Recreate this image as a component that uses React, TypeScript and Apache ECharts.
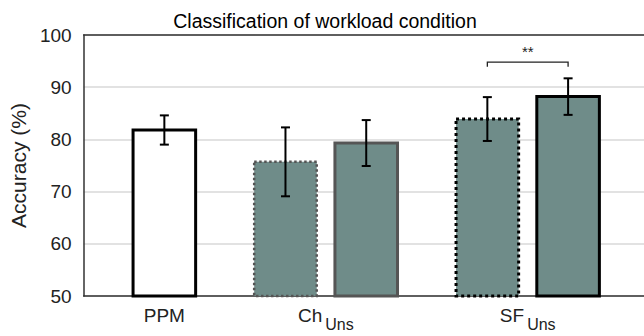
import React, { useEffect, useRef } from 'react';
import * as echarts from 'echarts';

// ---- data ----
const groupNames = ['PPM', 'Ch', 'SF'];
const groupSubs = ['', 'Uns', 'Uns'];
const groupSlots = [2, 6, 11];
const barNames = ['PPM', 'Ch_Uns (dotted)', 'Ch_Uns', 'SF_Uns (dotted)', 'SF_Uns'];
const barSlots = [2, 5, 7, 10, 12];
const barMeans = [81.8, 75.7, 79.3, 83.9, 88.2];
const barSD = [2.8, 6.6, 4.4, 4.2, 3.5];
const yMin = 50;
const yMax = 100;
const yStep = 10;
const sigPair = [3, 4];
const sigLabel = '**';
const sigLevel = 94.8;

// ---- styles ----
const TEAL = '#6f8c89';
const barStyles = [
  { fill: '#ffffff', stroke: '#000000', dash: null as any, width: 3 },
  { fill: TEAL, stroke: '#555555', dash: 'dotted', width: 2.5 },
  { fill: TEAL, stroke: '#555555', dash: null as any, width: 3 },
  { fill: TEAL, stroke: '#000000', dash: 'dotted', width: 3 },
  { fill: TEAL, stroke: '#000000', dash: null as any, width: 3 },
];
const HALF = 0.775;
const FONT = '"Liberation Sans", Arial, sans-serif';

export default function App() {
  const ref = useRef<HTMLDivElement>(null);
  useEffect(() => {
    document.body.style.margin = '0';
    const chart = echarts.init(ref.current!, null, { renderer: 'svg' });
    const barData = barSlots.map((s, i) => [s, barMeans[i], barSD[i]]);
    chart.setOption({
      animation: false,
      backgroundColor: '#ffffff',
      textStyle: { fontFamily: FONT },
      title: {
        text: 'Classification of workload condition',
        left: 320,
        textAlign: 'center',
        top: 6,
        textStyle: { fontFamily: FONT, fontSize: 19.5, fontWeight: 'normal', color: '#000' },
      },
      grid: { left: 79, right: 0, top: 35, bottom: 40 },
      xAxis: [
        {
          type: 'value',
          min: 0,
          max: 13.88,
          axisLine: { show: true, onZero: false, lineStyle: { color: '#333', width: 1.5 } },
          axisTick: { show: false },
          splitLine: { show: false },
          axisLabel: {
            customValues: groupSlots,
            margin: 10,
            fontFamily: FONT,
            color: '#222',
            formatter: (v: number) => {
              const i = groupSlots.indexOf(v);
              if (i < 0) return '';
              return groupSubs[i]
                ? `{m|${groupNames[i]}}{s|${groupSubs[i]}}`
                : `{m|${groupNames[i]}}`;
            },
            rich: {
              m: { fontSize: 19, lineHeight: 19, fontFamily: FONT, color: '#222', verticalAlign: 'top' },
              s: { fontSize: 16, lineHeight: 16, fontFamily: FONT, color: '#222', verticalAlign: 'top', padding: [10, 0, 0, 3] },
            },
          },
        },
        {
          type: 'value',
          position: 'top',
          min: 0,
          max: 13.88,
          axisLine: { show: true, lineStyle: { color: '#333', width: 1.5 } },
          axisTick: { show: false },
          axisLabel: { show: false },
          splitLine: { show: false },
        },
      ],
      yAxis: {
        type: 'value',
        min: yMin,
        max: yMax,
        interval: yStep,
        name: 'Accuracy (%)',
        nameLocation: 'middle',
        nameGap: 49,
        nameTextStyle: { fontFamily: FONT, fontSize: 21, color: '#222' },
        axisLine: { show: true, lineStyle: { color: '#333', width: 1.5 } },
        axisTick: { show: false },
        axisLabel: { fontFamily: FONT, fontSize: 19, color: '#222', margin: 12 },
        splitLine: { show: true, lineStyle: { color: '#d9d9d9', width: 1.5 } },
      },
      series: [
        {
          type: 'custom',
          name: 'bars',
          data: barData,
          renderItem: (params: any, api: any) => {
            const i = params.dataIndex;
            const x = api.value(0);
            const m = api.value(1);
            const sd = api.value(2);
            const st = barStyles[i];
            const tl = api.coord([x - HALF, m]);
            const br = api.coord([x + HALF, yMin]);
            const top = api.coord([x, m + sd]);
            const bot = api.coord([x, m - sd]);
            const cap = 4.5;
            const errStyle = { stroke: '#000', lineWidth: 2 };
            return {
              type: 'group',
              children: [
                {
                  type: 'rect',
                  shape: { x: tl[0], y: tl[1], width: br[0] - tl[0], height: br[1] - tl[1] },
                  style: {
                    fill: st.fill,
                    stroke: st.stroke,
                    lineWidth: st.width,
                    lineDash: st.dash ? [st.width, st.width] : null,
                  },
                },
                { type: 'line', shape: { x1: top[0], y1: top[1], x2: bot[0], y2: bot[1] }, style: errStyle },
                { type: 'line', shape: { x1: top[0] - cap, y1: top[1], x2: top[0] + cap, y2: top[1] }, style: errStyle },
                { type: 'line', shape: { x1: bot[0] - cap, y1: bot[1], x2: bot[0] + cap, y2: bot[1] }, style: errStyle },
              ],
            };
          },
        },
        {
          type: 'custom',
          name: 'significance',
          data: [[barSlots[sigPair[0]], barSlots[sigPair[1]], sigLevel]],
          renderItem: (params: any, api: any) => {
            const a = api.coord([api.value(0), api.value(2)]);
            const b = api.coord([api.value(1), api.value(2)]);
            const drop = 4.5;
            const ls = { stroke: '#222', lineWidth: 1.3, fill: 'none' };
            return {
              type: 'group',
              children: [
                {
                  type: 'polyline',
                  shape: { points: [[a[0], a[1] + drop], [a[0], a[1]], [b[0], b[1]], [b[0], b[1] + drop]] },
                  style: ls,
                },
                {
                  type: 'text',
                  x: (a[0] + b[0]) / 2,
                  y: a[1] - 3,
                  style: {
                    text: sigLabel,
                    font: '15px "Liberation Sans", Arial, sans-serif',
                    fill: '#222',
                    align: 'center',
                    verticalAlign: 'bottom',
                  },
                },
              ],
            };
          },
        },
      ],
    });
    return () => chart.dispose();
  }, []);
  return <div ref={ref} style={{ width: 644, height: 336 }} />;
}
